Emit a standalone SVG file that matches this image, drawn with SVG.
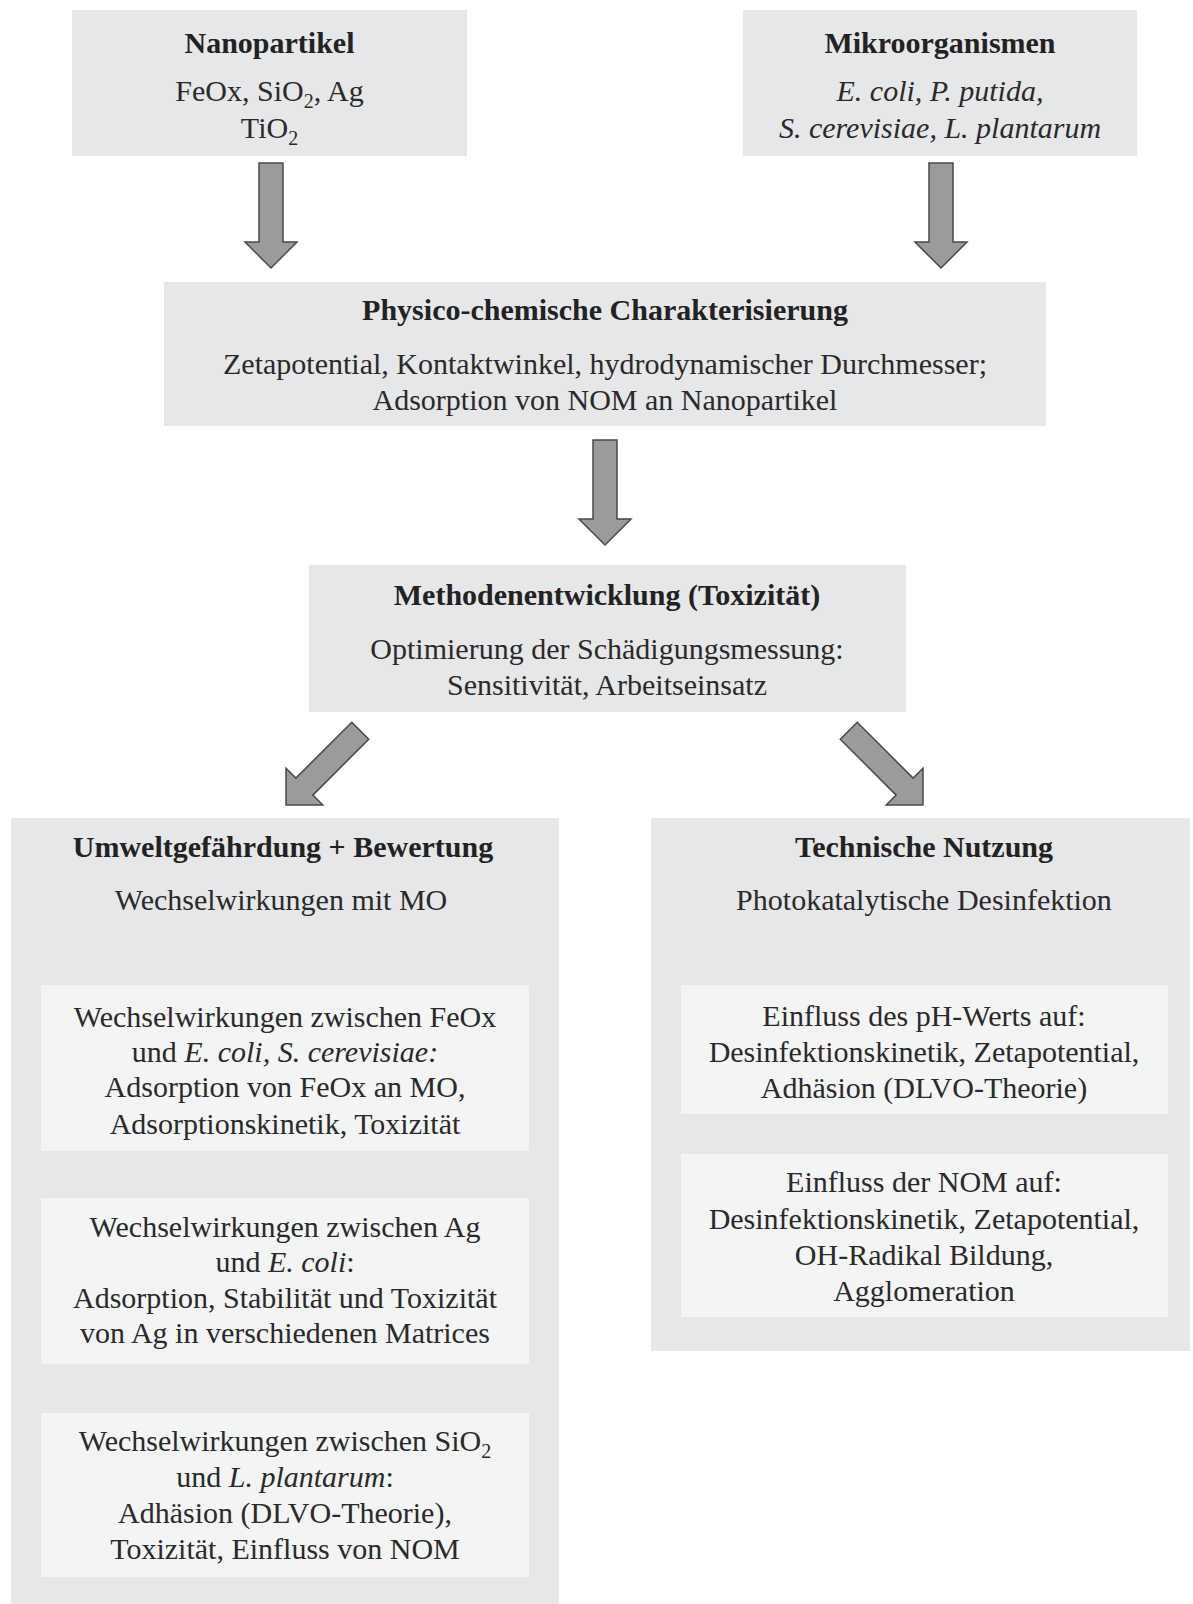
<svg xmlns="http://www.w3.org/2000/svg" width="1193" height="1604" viewBox="0 0 1193 1604">
<defs>
<style>
.box{fill:#e6e7e8}
.inner{fill:#f3f4f4}
.t{font-family:"Liberation Serif","Times New Roman",serif;font-size:30px;fill:#2a2a2a;text-anchor:middle}
.b{font-weight:bold;fill:#222}
.i{font-style:italic}
.arrow{fill:#9b9b9b;stroke:#4a4a4a;stroke-width:1.5;stroke-linejoin:miter}
</style>
<path id="arr" d="M -12 -105 H 12 V -26 H 26 L 0 0 L -26 -26 H -12 Z"/>
</defs>
<rect width="1193" height="1604" fill="#ffffff"/>

<g id="connectors">
<use href="#arr" class="arrow" transform="translate(271,268)"/>
<use href="#arr" class="arrow" transform="translate(941,268)"/>
<use href="#arr" class="arrow" transform="translate(605,545)"/>
<use href="#arr" class="arrow" transform="translate(286,805) rotate(45)"/>
<use href="#arr" class="arrow" transform="translate(923,805) rotate(-45)"/>
</g>

<g id="nanopartikel">
<rect class="box" x="72" y="10" width="395" height="146"/>
<text class="t b" x="269.5" y="53">Nanopartikel</text>
<text class="t" x="269.5" y="101">FeOx, SiO<tspan font-size="20" dy="7">2</tspan><tspan dy="-7">, Ag</tspan></text>
<text class="t" x="269.5" y="138">TiO<tspan font-size="20" dy="7">2</tspan></text>
</g>

<g id="mikroorganismen">
<rect class="box" x="743" y="10" width="394" height="146"/>
<text class="t b" x="940" y="53">Mikroorganismen</text>
<text class="t i" x="940" y="101">E. coli, P. putida,</text>
<text class="t i" x="940" y="138">S. cerevisiae, L. plantarum</text>
</g>

<g id="physico">
<rect class="box" x="164" y="282" width="882" height="144"/>
<text class="t b" x="605" y="320">Physico-chemische Charakterisierung</text>
<text class="t" x="605" y="374">Zetapotential, Kontaktwinkel, hydrodynamischer Durchmesser;</text>
<text class="t" x="605" y="410">Adsorption von NOM an Nanopartikel</text>
</g>

<g id="methoden">
<rect class="box" x="309" y="565" width="597" height="147"/>
<text class="t b" x="607" y="605">Methodenentwicklung (Toxizität)</text>
<text class="t" x="607" y="659">Optimierung der Schädigungsmessung:</text>
<text class="t" x="607" y="695">Sensitivität, Arbeitseinsatz</text>
</g>

<g id="umwelt">
<rect class="box" x="11" y="818" width="548" height="786"/>
<text class="t b" x="283" y="857">Umweltgefährdung + Bewertung</text>
<text class="t" x="281" y="910">Wechselwirkungen mit MO</text>
</g>

<g id="umwelt-feox">
<rect class="inner" x="41" y="985" width="488" height="166"/>
<text class="t" x="285" y="1027">Wechselwirkungen zwischen FeOx</text>
<text class="t" x="285" y="1062">und <tspan class="i">E. coli, S. cerevisiae:</tspan></text>
<text class="t" x="285" y="1097">Adsorption von FeOx an MO,</text>
<text class="t" x="285" y="1134">Adsorptionskinetik, Toxizität</text>
</g>

<g id="umwelt-ag">
<rect class="inner" x="41" y="1198" width="488" height="166"/>
<text class="t" x="285" y="1237">Wechselwirkungen zwischen Ag</text>
<text class="t" x="285" y="1272">und <tspan class="i">E. coli</tspan>:</text>
<text class="t" x="285" y="1308">Adsorption, Stabilität und Toxizität</text>
<text class="t" x="285" y="1343">von Ag in verschiedenen Matrices</text>
</g>

<g id="umwelt-sio2">
<rect class="inner" x="41" y="1413" width="488" height="164"/>
<text class="t" x="285" y="1451">Wechselwirkungen zwischen SiO<tspan font-size="20" dy="7">2</tspan></text>
<text class="t" x="285" y="1487">und <tspan class="i">L. plantarum</tspan>:</text>
<text class="t" x="285" y="1523">Adhäsion (DLVO-Theorie),</text>
<text class="t" x="285" y="1559">Toxizität, Einfluss von NOM</text>
</g>

<g id="technische">
<rect class="box" x="651" y="818" width="539" height="533"/>
<text class="t b" x="924" y="857">Technische Nutzung</text>
<text class="t" x="924" y="910">Photokatalytische Desinfektion</text>
</g>

<g id="technische-ph">
<rect class="inner" x="681" y="985" width="487" height="129"/>
<text class="t" x="924" y="1026">Einfluss des pH-Werts auf:</text>
<text class="t" x="924" y="1062">Desinfektionskinetik, Zetapotential,</text>
<text class="t" x="924" y="1098">Adhäsion (DLVO-Theorie)</text>
</g>

<g id="technische-nom">
<rect class="inner" x="681" y="1154" width="487" height="163"/>
<text class="t" x="924" y="1192">Einfluss der NOM auf:</text>
<text class="t" x="924" y="1229">Desinfektionskinetik, Zetapotential,</text>
<text class="t" x="924" y="1265">OH-Radikal Bildung,</text>
<text class="t" x="924" y="1301">Agglomeration</text>
</g>
</svg>
